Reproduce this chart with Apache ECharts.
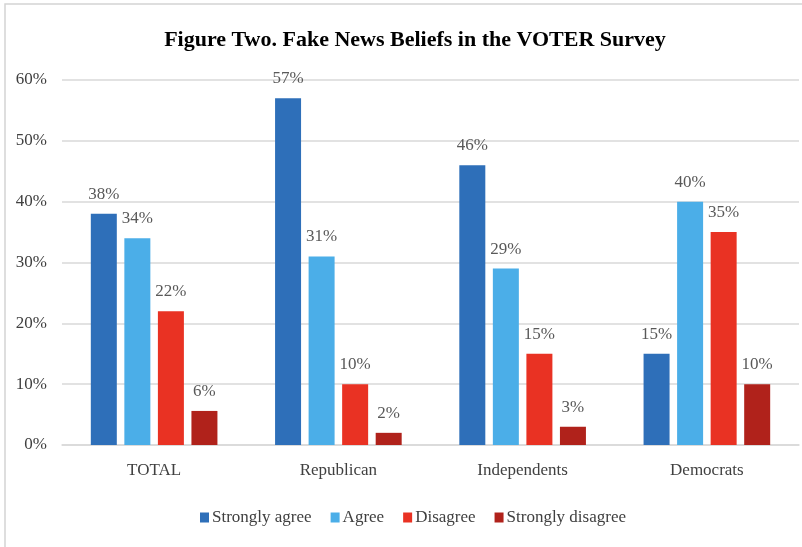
<!DOCTYPE html>
<html>
<head>
<meta charset="utf-8">
<script src="https://cdn.jsdelivr.net/npm/echarts@6/dist/echarts.min.js"></script>
<style>html,body{margin:0;padding:0;background:#fff;}#c{width:802px;height:547px;}</style>
</head>
<body>
<div id="c"></div>
<script>
var categories = ['TOTAL', 'Republican', 'Independents', 'Democrats'];
var seriesNames = ['Strongly agree', 'Agree', 'Disagree', 'Strongly disagree'];
var stronglyAgree = [38, 57, 46, 15];
var agree = [34, 31, 29, 40];
var disagree = [22, 10, 15, 35];
var stronglyDisagree = [5.6, 2, 3, 10];
var stronglyAgreeLabels = ['38%', '57%', '46%', '15%'];
var agreeLabels = ['34%', '31%', '29%', '40%'];
var disagreeLabels = ['22%', '10%', '15%', '35%'];
var stronglyDisagreeLabels = ['6%', '2%', '3%', '10%'];
var yTicks = ['0%', '10%', '20%', '30%', '40%', '50%', '60%'];

var colors = ['#2E6FB9', '#4BAEE8', '#E93223', '#B0221B'];
var values = [stronglyAgree, agree, disagree, stronglyDisagree];
var labels = [stronglyAgreeLabels, agreeLabels, disagreeLabels, stronglyDisagreeLabels];
var font = '"Liberation Serif", "Times New Roman", serif';

var series = seriesNames.map(function (name, i) {
  return {
    name: name,
    type: 'bar',
    barWidth: 26,
    barGap: '29%',
    barCategoryGap: '31%',
    itemStyle: { color: colors[i] },
    label: {
      show: true,
      position: 'top',
      distance: 11,
      fontFamily: font,
      fontSize: 17,
      color: '#595959',
      formatter: function (p) { return labels[i][p.dataIndex]; }
    },
    data: values[i]
  };
});

var chart = echarts.init(document.getElementById('c'), null, { renderer: 'canvas' });
chart.setOption({
  animation: false,
  backgroundColor: '#fff',
  title: {
    text: 'Figure Two. Fake News Beliefs in the VOTER Survey',
    left: 410,
    textAlign: 'center',
    top: 24,
    textStyle: { fontFamily: font, fontSize: 22, fontWeight: 'bold', color: '#000' }
  },
  legend: {
    data: seriesNames,
    bottom: 16,
    left: 195,
    itemWidth: 9,
    itemHeight: 10,
    itemGap: 19,
    icon: 'rect',
    textStyle: { fontFamily: font, fontSize: 17, color: '#404040', padding: [0, 0, 0, -2] }
  },
  grid: { left: 62, right: 3, top: 80, bottom: 102, containLabel: false },
  xAxis: {
    type: 'category',
    data: categories,
    axisLine: { show: true, lineStyle: { color: '#d9d9d9', width: 1.5 } },
    axisTick: { show: false },
    axisLabel: { fontFamily: font, fontSize: 17, color: '#404040', margin: 17 }
  },
  yAxis: {
    type: 'value',
    min: 0,
    max: 60,
    interval: 10,
    axisLine: { show: false },
    axisTick: { show: false },
    splitLine: { lineStyle: { color: '#d9d9d9', width: 1.5 } },
    axisLabel: {
      fontFamily: font, fontSize: 17, color: '#404040', margin: 15,
      formatter: function (v) { return yTicks[Math.round(v / 10)]; }
    }
  },
  graphic: [{
    type: 'rect',
    shape: { x: 5, y: 4, width: 830, height: 600 },
    style: { fill: 'none', stroke: '#d4d4d4', lineWidth: 1.5 },
    silent: true
  }],
  series: series
});
</script>
</body>
</html>
